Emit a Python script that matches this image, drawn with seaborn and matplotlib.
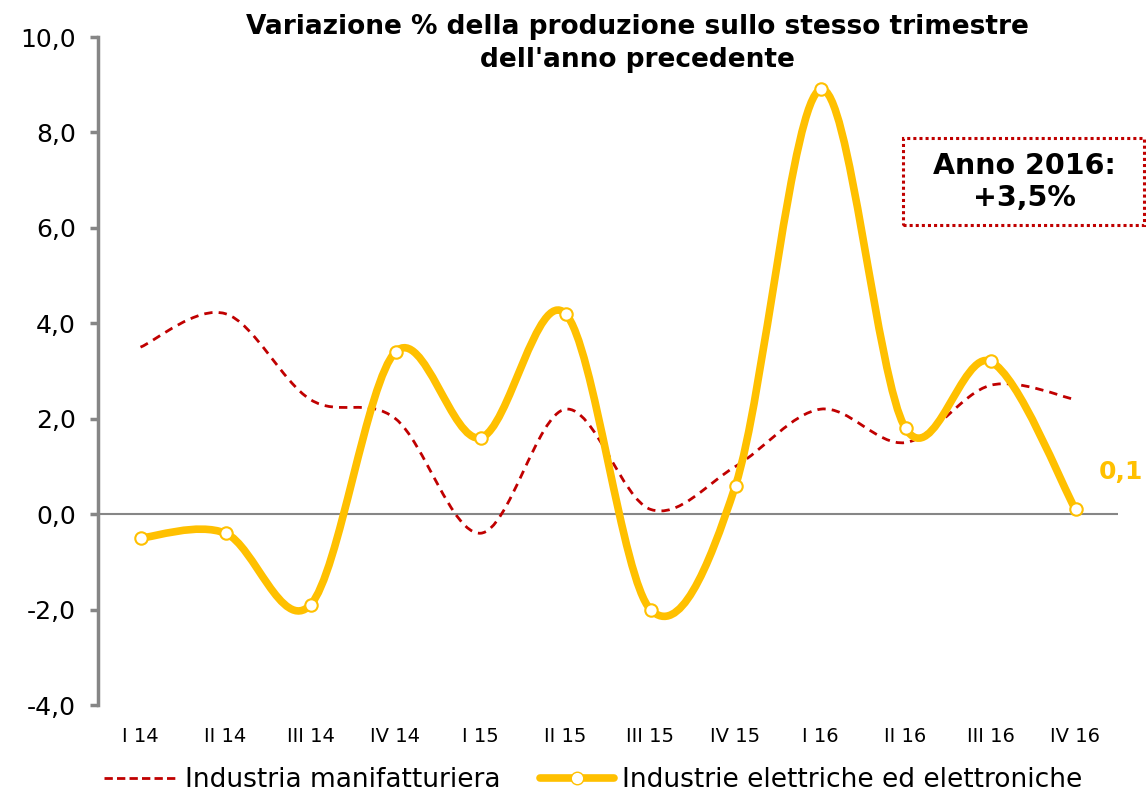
import matplotlib
matplotlib.use("Agg")
import matplotlib.pyplot as plt
import seaborn as sns
from matplotlib.path import Path
from matplotlib.patches import PathPatch, Rectangle
from matplotlib.lines import Line2D
from matplotlib.ticker import FuncFormatter

quarters = ["I 14", "II 14", "III 14", "IV 14", "I 15", "II 15",
            "III 15", "IV 15", "I 16", "II 16", "III 16", "IV 16"]
manifatturiera = [3.5, 4.2, 2.4, 2.0, -0.4, 2.2, 0.1, 1.0, 2.2, 1.5, 2.7, 2.4]
elettriche = [-0.5, -0.4, -1.9, 3.4, 1.6, 4.2, -2.0, 0.6, 8.9, 1.8, 3.2, 0.1]

RED = "#C00000"
YELLOW = "#FFC000"
GREY = "#868686"

sns.set_theme(style="white")
plt.rcParams["font.family"] = ["DejaVu Sans"]
plt.rcParams["text.color"] = "black"


def smooth_path(xs, ys):
    # Excel-style smoothed line: cubic bezier through the points
    pts = list(zip(xs, ys))
    n = len(pts)
    verts = [pts[0]]
    codes = [Path.MOVETO]
    for i in range(n - 1):
        p0 = pts[i - 1] if i > 0 else pts[i]
        p1 = pts[i]
        p2 = pts[i + 1]
        p3 = pts[i + 2] if i + 2 < n else pts[i + 1]
        c1 = (p1[0] + (p2[0] - p0[0]) / 6, p1[1] + (p2[1] - p0[1]) / 6)
        c2 = (p2[0] - (p3[0] - p1[0]) / 6, p2[1] - (p3[1] - p1[1]) / 6)
        verts += [c1, c2, p2]
        codes += [Path.CURVE4] * 3
    return Path(verts, codes)


fig = plt.figure(figsize=(11.46, 7.99), dpi=100)
ax = fig.add_axes([98 / 1146, 94 / 799, 1020 / 1146, 668 / 799])

xs = list(range(len(quarters)))

ax.axhline(0, color=GREY, lw=1.5, zorder=1)

ax.add_patch(PathPatch(smooth_path(xs, manifatturiera), fill=False,
                       edgecolor=RED, lw=2, linestyle=(0, (3, 2.2)), zorder=2))
ax.add_patch(PathPatch(smooth_path(xs, elettriche), fill=False,
                       edgecolor=YELLOW, lw=5.5, capstyle="round",
                       joinstyle="round", zorder=3))
sns.scatterplot(x=xs, y=elettriche, ax=ax, marker="o", s=80, color="white",
                edgecolor=YELLOW, linewidth=1.5, zorder=4, legend=False)

ax.set_xlim(-0.5, 11.5)
ax.set_ylim(-4, 10)
ax.set_yticks(range(-4, 11, 2))
ax.yaxis.set_major_formatter(FuncFormatter(lambda v, p: f"{v:.1f}".replace(".", ",")))
ax.set_xticks(xs)
ax.set_xticklabels(quarters)

for s in ["top", "right", "bottom"]:
    ax.spines[s].set_visible(False)
ax.spines["left"].set_color(GREY)
ax.spines["left"].set_linewidth(2.5)
ax.tick_params(axis="y", left=True, direction="out", length=6, width=2.5,
               color=GREY, labelsize=18, pad=10, labelcolor="black")
ax.tick_params(axis="x", length=0, labelsize=14, pad=16, labelcolor="black")

fig.text(637 / 1146, 1 - 14 / 799,
         "Variazione % della produzione sullo stesso trimestre\ndell'anno precedente",
         ha="center", va="top", fontsize=19, fontweight="bold",
         linespacing=1.35, color="black")

# annotation box
box = Rectangle((903 / 1146, 1 - 225 / 799), 241 / 1146, 87 / 799,
                transform=fig.transFigure, facecolor="white", edgecolor=RED,
                lw=2.2, linestyle=(0, (1, 1)), zorder=5)
fig.patches.append(box)
fig.text(1024 / 1146, 1 - 182 / 799, "Anno 2016:\n+3,5%", ha="center",
         va="center", fontsize=20.5, fontweight="bold", linespacing=1.15,
         color="black", zorder=10)

ax.annotate("0,1", (xs[-1], elettriche[-1]), xytext=(17, 27),
            textcoords="offset points", color=YELLOW, fontsize=18,
            fontweight="bold", ha="left", va="center", annotation_clip=False)

handles = [
    Line2D([], [], color=RED, lw=2, linestyle=(0, (3, 1.5))),
    Line2D([], [], color=YELLOW, lw=5.5, marker="o", markersize=9,
           markerfacecolor="white", markeredgecolor=YELLOW),
]
fig.legend(handles, ["Industria manifatturiera", "Industrie elettriche ed elettroniche"],
           loc="center", bbox_to_anchor=(593 / 1146, 1 - 780 / 799), ncol=2,
           frameon=False, fontsize=19, handlelength=2.8, handletextpad=0.3,
           columnspacing=1.5, labelcolor="black")

fig.savefig("out.png", dpi=100)
